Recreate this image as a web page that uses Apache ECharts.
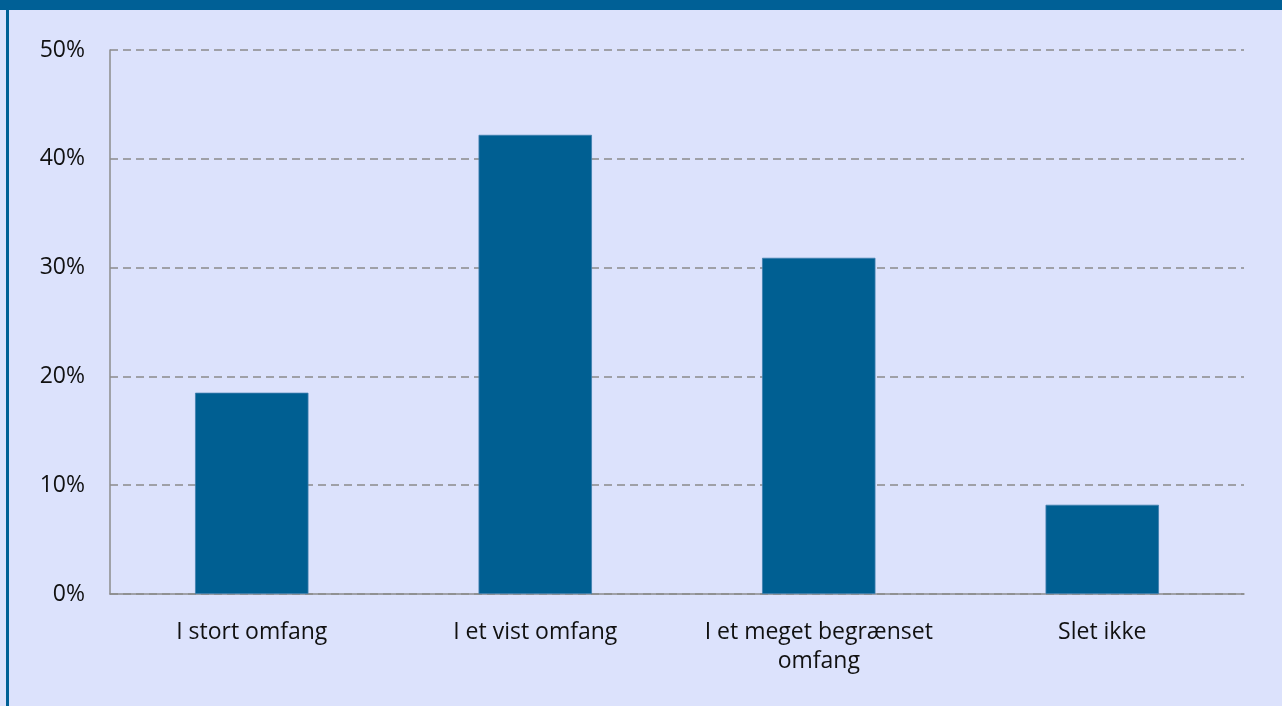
<!DOCTYPE html>
<html>
<head>
<meta charset="utf-8">
<script src="https://cdn.jsdelivr.net/npm/echarts@6/dist/echarts.min.js"></script>
<style>
html,body{margin:0;padding:0;background:#dce2fc;}
#chart{width:1282px;height:706px;}
</style>
</head>
<body>
<div id="chart"></div>
<script>
const categories = ['I stort omfang', 'I et vist omfang', 'I et meget begrænset\nomfang', 'Slet ikke'];
const values = [18.5, 42.2, 30.9, 8.2];
const yTicks = [0, 10, 20, 30, 40, 50];

const chart = echarts.init(document.getElementById('chart'));
chart.setOption({
  backgroundColor: '#dce2fc',
  animation: false,
  textStyle: { fontFamily: 'Open Sans' },
  graphic: [
    { type: 'rect', left: 0, top: 0, shape: { width: 1282, height: 10 }, style: { fill: '#006096' }, z: 100 },
    { type: 'rect', left: 6, top: 0, shape: { width: 3, height: 706 }, style: { fill: '#006096' }, z: 100 }
  ],
  grid: { left: 110, right: 38, top: 50, bottom: 112, containLabel: false },
  xAxis: {
    type: 'category',
    data: categories,
    axisLine: { lineStyle: { color: '#8c8c8c', width: 1.5 } },
    axisTick: { show: false },
    axisLabel: { color: '#111', fontSize: 23, lineHeight: 29, margin: 24, interval: 0 }
  },
  yAxis: {
    type: 'value',
    min: yTicks[0],
    max: yTicks[yTicks.length - 1],
    interval: 10,
    axisLine: { show: true, lineStyle: { color: '#8c8c8c', width: 1.5 } },
    axisTick: { show: false },
    axisLabel: { color: '#111', fontSize: 23, margin: 25, formatter: v => v + '%' },
    splitLine: { lineStyle: { color: '#8a8a8a', width: 1.5, type: [8, 5] } }
  },
  series: [{
    type: 'bar',
    data: values,
    barWidth: '40%',
    itemStyle: { color: '#005f92', borderColor: '#3f7fae', borderWidth: 0.8 }
  }]
});
</script>
</body>
</html>
